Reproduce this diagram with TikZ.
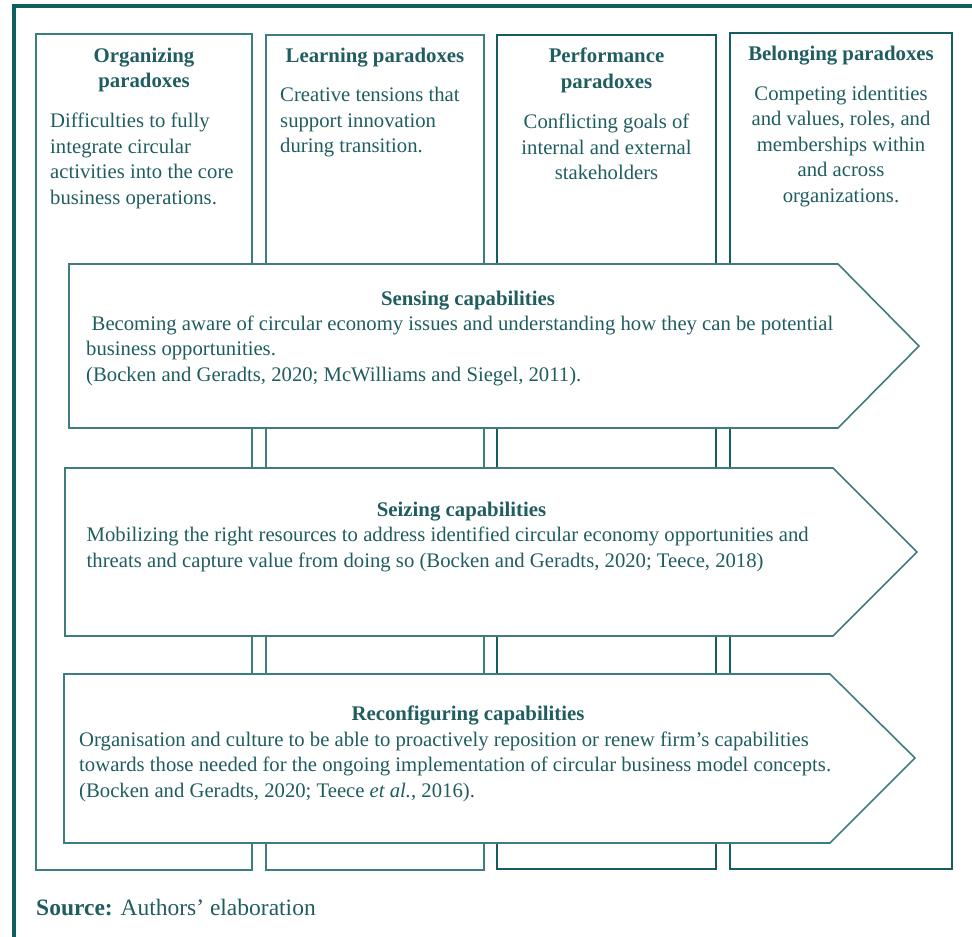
\documentclass[tikz,border=0pt]{standalone}
\usepackage{fontspec}
\setmainfont{Liberation Serif}
\definecolor{framecol}{HTML}{0F5F62}
\definecolor{boxlight}{HTML}{3D7E82}
\definecolor{boxdark}{HTML}{175D60}
\definecolor{arrowcol}{HTML}{3F7C80}
\definecolor{inkcol}{HTML}{205D60}

\begin{document}
\begin{tikzpicture}[x=1pt, y=-1pt,
  txt/.style={text=inkcol, inner sep=0pt, font=\fontsize{20.7}{25.5}\selectfont},
  head/.style={txt, font=\fontsize{20.8}{25.5}\selectfont\bfseries},
  thinbox/.style={draw=boxlight, line width=1.6pt},
  thickbox/.style={draw=boxdark, line width=2.6pt},
  chevron/.style={draw=arrowcol, fill=white, line width=1.6pt, line join=miter}]
  \useasboundingbox (0,0) rectangle (972,937);

  % outer frame, only top and left edges show
  \draw[framecol, line width=4pt] (13.5,940) -- (13.5,5.5) -- (975,5.5);

  % the four paradox columns (anchors sit on the last baseline)
  \draw[thinbox] (36,34) rectangle (252,870);
  \draw[thinbox] (266,35) rectangle (484,870);
  \draw[thickbox] (497,35) rectangle (716,869);
  \draw[thickbox] (730,33) rectangle (952,869);

  \node[head, align=center, anchor=base] (orgHead) at (144,87.5) {Organizing\\paradoxes};
  \node[txt, align=left, anchor=base west] (orgText) at (50,204)
    {Difficulties to fully\\integrate circular\\activities into the core\\business operations.};
  \node[head, anchor=base] (learnHead) at (375,62.5) {Learning paradoxes};
  \node[txt, align=left, anchor=base west] (learnText) at (280,152.5)
    {Creative tensions that\\support innovation\\during transition.};
  \node[head, align=center, anchor=base] (perfHead) at (606.5,88) {Performance\\paradoxes};
  \node[txt, align=center, anchor=base] (perfText) at (606.5,179.5)
    {Conflicting goals of\\internal and external\\stakeholders};
  \node[head, anchor=base] (belongHead) at (841,60) {Belonging paradoxes};
  \node[txt, align=center, anchor=base] (belongText) at (841,202)
    {Competing identities\\and values, roles, and\\memberships within\\and across\\organizations.};

  % capability arrows across the columns
  \draw[chevron] (69,264) -- (838,264) -- (919,346) -- (838,428) -- (69,428) -- cycle;
  \draw[chevron] (65,468) -- (833,468) -- (917,552) -- (833,636) -- (65,636) -- cycle;
  \draw[chevron] (64,674) -- (830,674) -- (915,758) -- (830,843) -- (64,843) -- cycle;

  \node[head, anchor=base] (senseHead) at (468,305) {Sensing capabilities};
  \node[txt, align=left, anchor=base west] (senseText) at (86,381)
    {\hspace*{5.5pt}Becoming aware of circular economy issues and understanding how they can be potential\\
     business opportunities.\\
     (Bocken and Geradts, 2020; McWilliams and Siegel, 2011).};
  \node[head, anchor=base] (seizeHead) at (461.5,516.5) {Seizing capabilities};
  \node[txt, align=left, anchor=base west] (seizeText) at (86.5,567)
    {Mobilizing the right resources to address identified circular economy opportunities and\\
     threats and capture value from doing so (Bocken and Geradts, 2020; Teece, 2018)};
  \node[head, anchor=base] (reconfHead) at (468,720) {Reconfiguring capabilities};
  \node[txt, align=left, anchor=base west] (reconfText) at (79,797)
    {Organisation and culture to be able to proactively reposition or renew firm’s capabilities\\
     towards those needed for the ongoing implementation of circular business model concepts.\\
     (Bocken and Geradts, 2020; Teece \textit{et al.}, 2016).};

  \node[txt, anchor=base west, font=\fontsize{23.5}{28}\selectfont] (source) at (36,915)
    {\textbf{Source:} Authors’ elaboration};
\end{tikzpicture}
\end{document}
